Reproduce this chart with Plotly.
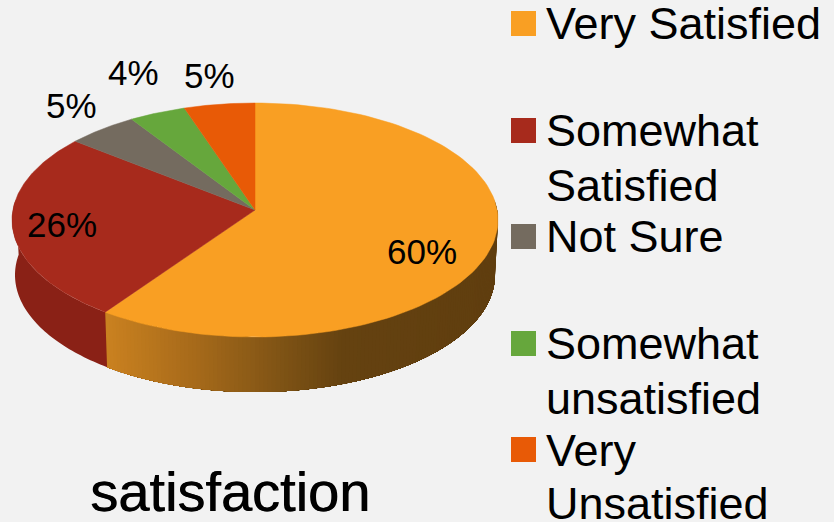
import numpy as np
import plotly.graph_objects as go

# Data
categories = ["Very Satisfied", "Somewhat Satisfied", "Not Sure", "Somewhat unsatisfied", "Very Unsatisfied"]
values = [60, 26, 5, 4, 5]
title_text = "satisfaction"

# Styles
legend_lines = [["Very Satisfied"], ["Somewhat", "Satisfied"], ["Not Sure"], ["Somewhat", "unsatisfied"], ["Very", "Unsatisfied"]]
legend_line_y = [[23], [130, 185], [236], [343, 398], [450, 503]]
top_colors = ["#F99F23", "#A72A1C", "#746B5F", "#66A73C", "#E85A06"]
BG = "#F2F2F2"
FONT = "Liberation Sans"

# Pie geometry (projected disc in pixel-sized axes)
APEX = (255, 210)
TOP_C, TOP_R = (255, 220), (243, 117)
BOT_C, BOT_R = (255, 275), (240, 117)
SKEW = 3.5  # degrees of perspective distortion


def warp(deg):
    return deg - SKEW * np.sin(np.radians(deg))


def ellipse(deg, c, r):
    a = np.radians(deg)
    return c[0] + r[0] * np.sin(a), c[1] - r[1] * np.cos(a)


def wall_color(i, x):
    if i == 0:
        r = np.interp(x, [105, 200, 280, 345, 495], [203, 165, 128, 101, 96])
        g = np.interp(x, [105, 200, 280, 345, 495], [130, 105, 84, 66, 62])
        b = np.interp(x, [105, 200, 280, 345, 495], [32, 26, 21, 16, 15])
    else:
        r, g, b = 138, 33, 22
    return f"rgb({r:.0f},{g:.0f},{b:.0f})"


fig = go.Figure()
share = 360.0 * np.array(values) / sum(values)
ends = np.cumsum(share)
starts = ends - share

# side wall: painted front to back so no seams appear between gradient steps
for i in range(len(values)):
    lo, hi = max(warp(starts[i]), 80), min(warp(ends[i]), 280)
    if hi <= lo:
        continue
    steps = np.arange(lo, hi, 1.0) if i == 0 else np.array([lo])
    for a0 in steps:
        seg = np.linspace(a0, hi, 60)
        tx, ty = ellipse(seg, TOP_C, TOP_R)
        bx, by = ellipse(seg[::-1], BOT_C, BOT_R)
        col = wall_color(i, float(tx[0]))
        fig.add_trace(go.Scatter(
            x=np.r_[tx, bx, tx[0]], y=np.r_[ty, by, ty[0]],
            mode="none", fill="toself", fillcolor=col,
            hoverinfo="skip", showlegend=False))

# top face
for i in range(len(values)):
    deg = warp(np.linspace(starts[i], ends[i], 120))
    rx, ry = ellipse(deg, TOP_C, TOP_R)
    fig.add_trace(go.Scatter(
        x=np.r_[APEX[0], rx, APEX[0]], y=np.r_[APEX[1], ry, APEX[1]],
        mode="lines", fill="toself", fillcolor=top_colors[i],
        line=dict(color=top_colors[i], width=0.5), name=categories[i],
        hoverinfo="skip", showlegend=False))

# legend swatches
swatch_y = [23.5, 130.5, 236.5, 343.5, 449.5]
fig.add_trace(go.Scatter(
    x=[523.5] * len(categories), y=swatch_y, mode="markers",
    marker=dict(symbol="square", size=25, color=top_colors, line=dict(width=0)),
    hoverinfo="skip", showlegend=False))

annotations = []
for lines, ys in zip(legend_lines, legend_line_y):
    for text, y in zip(lines, ys):
        annotations.append(dict(
            x=545, y=y, xref="x", yref="y", xanchor="left", yanchor="middle",
            text=text, align="left", showarrow=False, borderpad=0,
            font=dict(family=FONT, size=45, color="#000000")))

label_xy = [(422, 251), (62, 224), (71, 105), (133, 72), (209, 75)]
for i, (lx, ly) in enumerate(label_xy):
    annotations.append(dict(
        x=lx, y=ly, xref="x", yref="y", xanchor="center", yanchor="middle",
        text=f"{values[i]}%", showarrow=False, borderpad=0,
        font=dict(family=FONT, size=35, color="#000000")))

annotations.append(dict(
    x=230, y=491, xref="x", yref="y", xanchor="center", yanchor="middle",
    text=title_text, showarrow=False, borderpad=0,
    font=dict(family=FONT, size=56, color="#000000", shadow="0.7px 0 0 #000")))

fig.update_layout(
    width=834, height=522, margin=dict(l=0, r=0, t=0, b=0),
    paper_bgcolor=BG, plot_bgcolor=BG,
    xaxis=dict(range=[0, 834], visible=False, fixedrange=True),
    yaxis=dict(range=[522, 0], visible=False, fixedrange=True),
    annotations=annotations, showlegend=False)

fig.write_html(
    "out.html",
    config={"displayModeBar": False},
    post_script="document.documentElement.style.background='#F2F2F2';"
                "document.body.style.margin='0';document.body.style.overflow='hidden';")
